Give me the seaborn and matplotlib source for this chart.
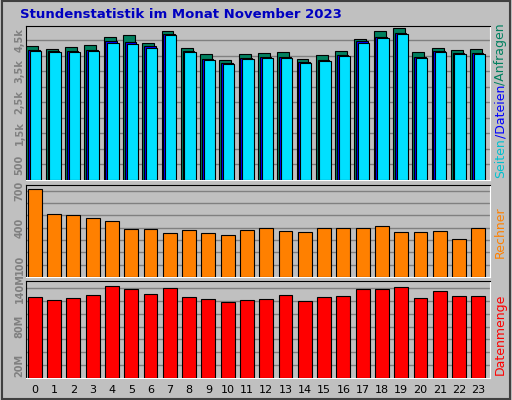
import matplotlib.pyplot as plt
import seaborn as sns
import pandas as pd
import numpy as np

hours = list(range(24))
hits = [4300, 4210, 4270, 4330, 4590, 4650, 4400, 4780, 4240, 4050, 3860, 4050,
        4080, 4110, 3890, 4020, 4150, 4530, 4780, 4870, 4110, 4240, 4180, 4210]
files = [4180, 4150, 4150, 4180, 4460, 4430, 4310, 4680, 4150, 3900, 3760, 3930,
         3960, 3960, 3800, 3860, 4020, 4460, 4590, 4720, 3960, 4150, 4090, 4090]
pages = [4150, 4110, 4110, 4150, 4400, 4370, 4240, 4650, 4110, 3860, 3730, 3890,
         3920, 3920, 3770, 3830, 3990, 4400, 4560, 4680, 3920, 4110, 4050, 4050]
visits = [710, 513, 505, 481, 457, 385, 385, 354, 377, 354, 338, 377,
          393, 370, 362, 393, 393, 400, 409, 362, 362, 370, 306, 393]
kbytes = [126, 121, 124, 129, 143, 139, 131, 140, 126, 123, 118, 121,
          123, 129, 120, 126, 128, 139, 139, 142, 124, 135, 128, 128]

sns.set_style('white')
bg = '#c0c0c0'
fig = plt.figure(figsize=(5.12, 4.0), dpi=100, facecolor=bg)
fig.patches.append(plt.Rectangle((0.003, 0.003), 0.994, 0.994, transform=fig.transFigure,
                                 fill=False, edgecolor='#404040', linewidth=1.5))

ax1 = fig.add_axes([0.051, 0.55, 0.906, 0.385])
ax2 = fig.add_axes([0.051, 0.3075, 0.906, 0.23])
ax3 = fig.add_axes([0.051, 0.055, 0.906, 0.2425])
x = np.array(hours)

ax1.bar(x - 0.12, hits, width=0.62, color='#00805f', edgecolor='black', linewidth=0.8, zorder=3)
ax1.bar(x - 0.04, files, width=0.6, color='#0000ff', edgecolor='black', linewidth=0.8, zorder=4)
ax1.bar(x + 0.05, pages, width=0.58, color='#00e0ff', edgecolor='black', linewidth=0.8, zorder=5)
ax1.set_ylim(0, 4950)
ax1.set_yticks(np.arange(500, 5000, 500))
ax1.set_yticklabels(['500', '', '1,5k', '', '2,5k', '', '3,5k', '', '4,5k'])

df = pd.DataFrame({'hour': hours, 'visits': visits, 'kbytes': kbytes})
sns.barplot(data=df, x='hour', y='visits', color='#ff8000', saturation=1, width=0.72,
            edgecolor='black', linewidth=0.8, ax=ax2, zorder=3)
ax2.set_ylim(0, 745)
ax2.set_yticks(np.arange(100, 745, 100))
ax2.set_yticklabels(['100', '', '', '400', '', '', '700'])

sns.barplot(data=df, x='hour', y='kbytes', color='#ff0000', saturation=1, width=0.72,
            edgecolor='black', linewidth=0.8, ax=ax3, zorder=3)
ax3.set_ylim(0, 151)
ax3.set_yticks(np.arange(20, 151, 20))
ax3.set_yticklabels(['20M', '', '', '80M', '', '', '140M'])

for ax in (ax1, ax2, ax3):
    ax.set_facecolor(bg)
    ax.set_xlim(-0.45, 23.6)
    ax.grid(axis='y', color='#808080', linewidth=1, zorder=0)
    ax.set_xlabel('')
    ax.set_ylabel('')
    ax.tick_params(axis='y', labelrotation=90, labelsize=7, colors='#808080', length=0, pad=1)
    for lab in ax.get_yticklabels():
        lab.set_fontweight('bold')
        lab.set_va('center')
    for s in ax.spines.values():
        s.set_color('black')
    ax.spines['right'].set_color('white')
    ax.spines['bottom'].set_color('white')
ax1.set_xticks([])
ax2.set_xticks([])
ax3.set_xticks(hours)
ax3.set_xticklabels([str(h) for h in hours])
ax3.tick_params(axis='x', labelsize=8, colors='black', length=0, pad=5)

fig.text(0.04, 0.965, 'Stundenstatistik im Monat November 2023', color='#0000c0',
         fontsize=9.5, fontweight='bold', va='center')

# right side label, pieced together bottom to top
renderer = fig.canvas.get_renderer()
ypos = 0.555
for word, col in [('Seiten', '#00c0d0'), ('/Dateien', '#0000ff'), ('/Anfragen', '#00805f')]:
    t = fig.text(0.978, ypos, word, color=col, rotation=90, fontsize=9, ha='center', va='bottom')
    bb = t.get_window_extent(renderer).transformed(fig.transFigure.inverted())
    ypos += bb.height
fig.text(0.978, 0.42, 'Rechner', color='#ff8000', rotation=90, fontsize=9, ha='center', va='center')
fig.text(0.978, 0.165, 'Datenmenge', color='#ff0000', rotation=90, fontsize=9, ha='center', va='center')

fig.savefig('out.png', dpi=100, facecolor=bg)
